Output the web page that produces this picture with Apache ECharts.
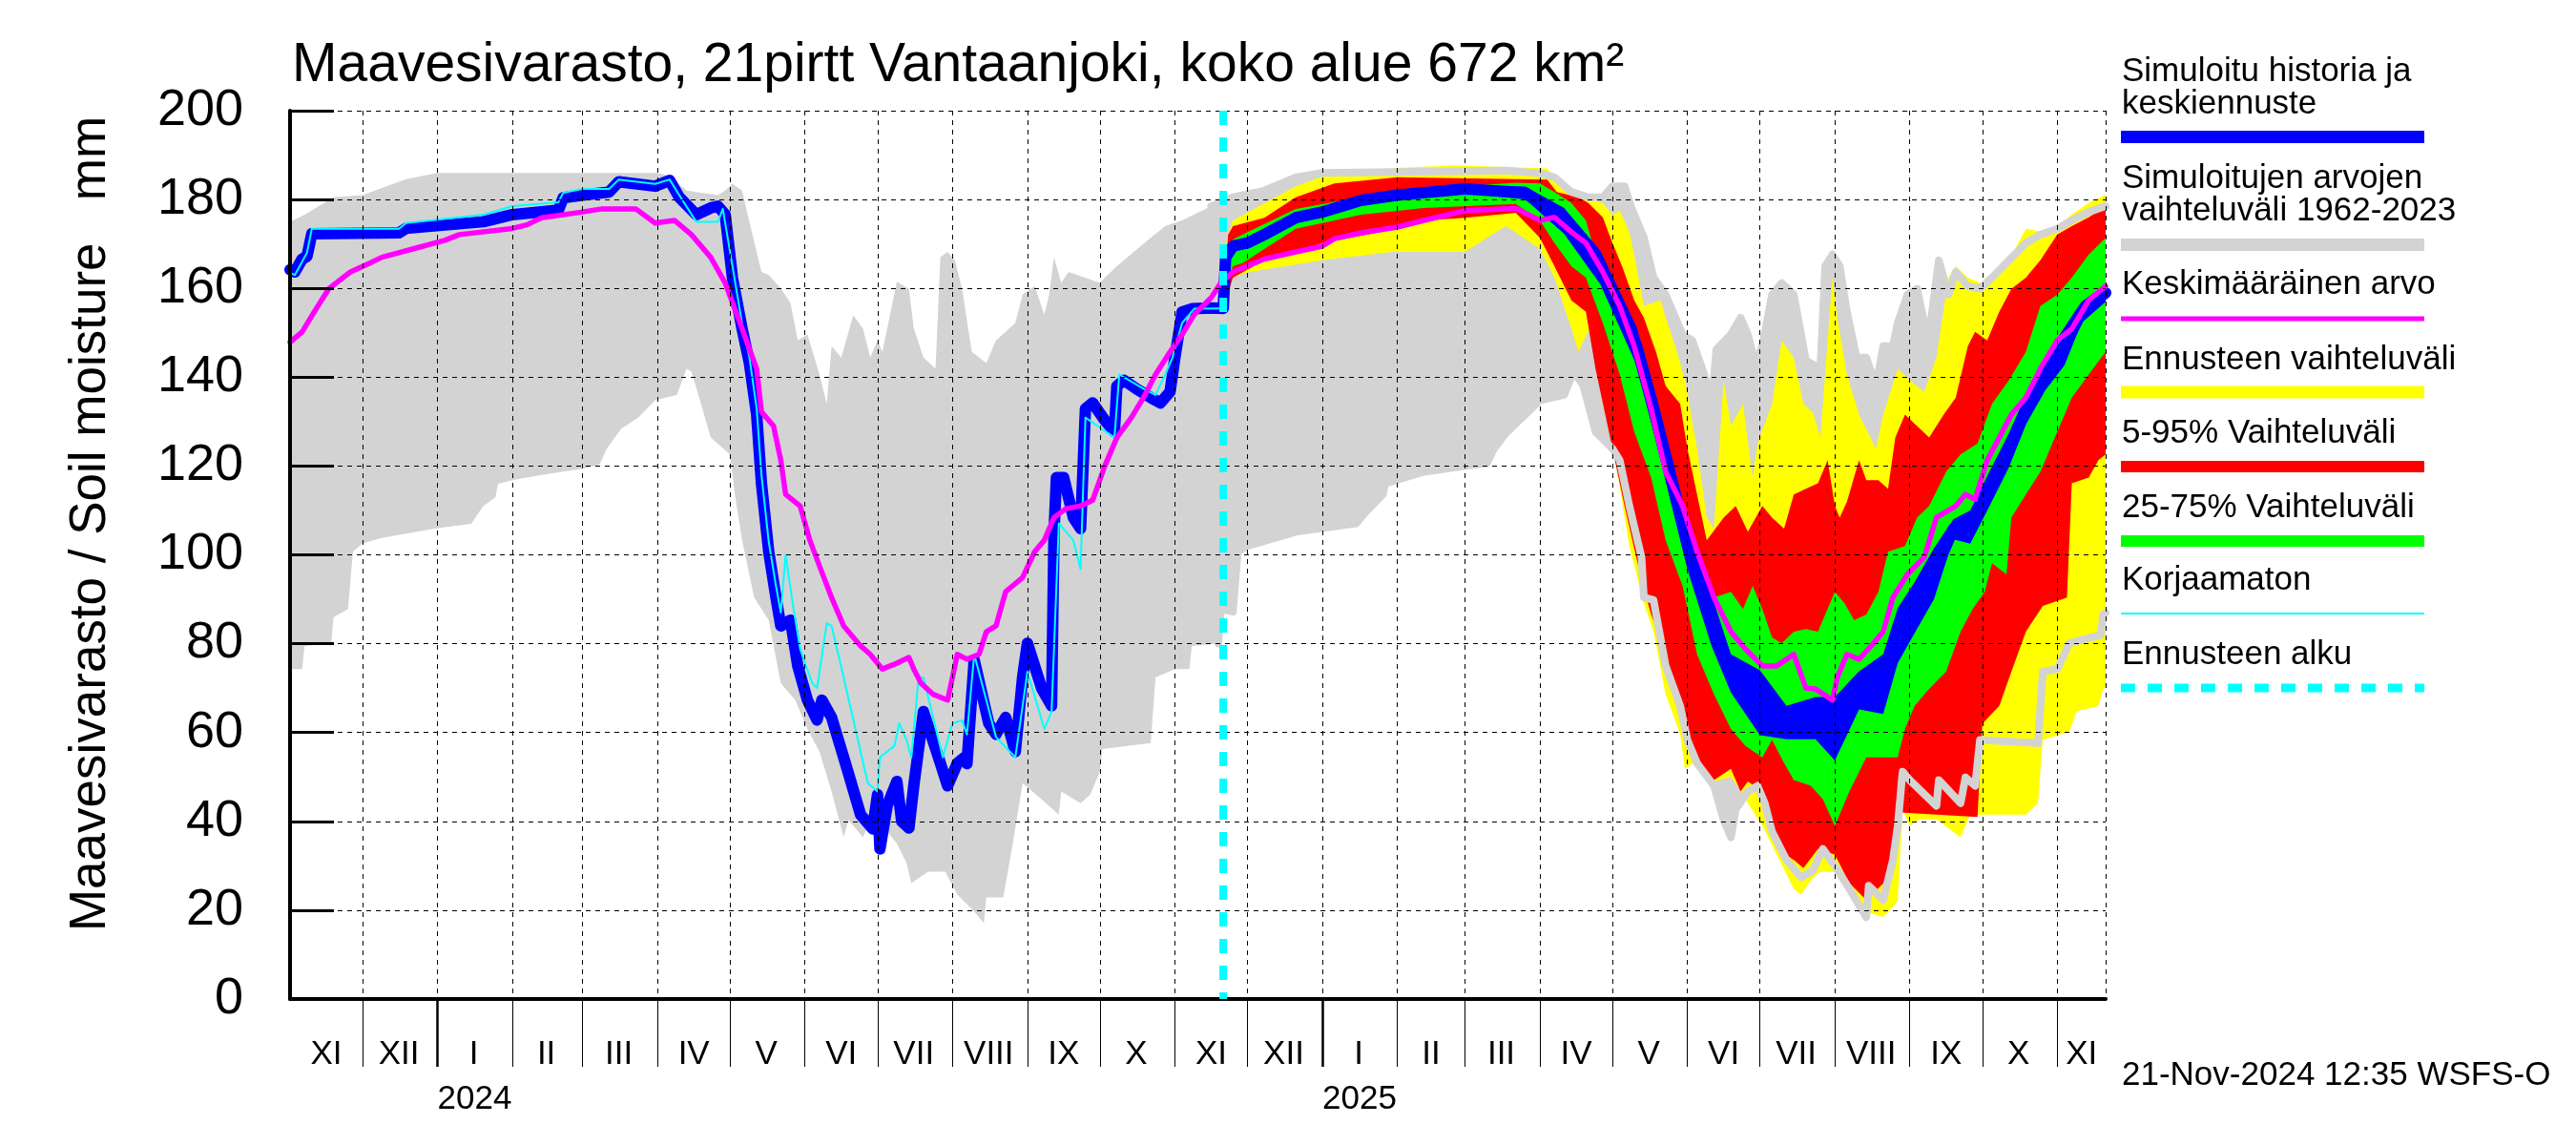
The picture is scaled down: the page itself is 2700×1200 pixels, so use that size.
<!DOCTYPE html>
<html>
<head>
<meta charset="utf-8">
<script src="https://cdn.jsdelivr.net/npm/echarts@6.0.0/dist/echarts.min.js"></script>
<style>html,body{margin:0;padding:0;background:#fff;}#c{width:2700px;height:1200px;}</style>
</head>
<body>
<div id="c"></div>
<script>
// ---------- DATA ----------
const axisStart = '2023-11-01';
const axisEnd = '2025-11-21';
const forecastStart = '2024-11-21';
const monthNames = ['I','II','III','IV','V','VI','VII','VIII','IX','X','XI','XII'];
const yTicks = [0, 200, 20];

const titleText = 'Maavesivarasto, 21pirtt Vantaanjoki, koko alue 672 km\u00b2';
const yName = 'Maavesivarasto / Soil moisture   mm';
const stampText = '21-Nov-2024 12:35 WSFS-O';
const legendItems = [
  ['Simuloitu historia ja', 'keskiennuste'],
  ['Simuloitujen arvojen', 'vaihteluv\u00e4li 1962-2023'],
  ['Keskim\u00e4\u00e4r\u00e4inen arvo'],
  ['Ennusteen vaihteluv\u00e4li'],
  ['5-95% Vaihteluv\u00e4li'],
  ['25-75% Vaihteluv\u00e4li'],
  ['Korjaamaton'],
  ['Ennusteen alku']
];

const greyHigh = [
['2023-11-01',175],['2023-11-07',176.6],['2023-11-19',180.5],['2023-12-01',181],['2023-12-19',184.6],['2024-01-01',186],['2024-04-01',186],['2024-04-06',185.3],['2024-04-13',182],['2024-04-26',181],['2024-04-29',182],['2024-05-02',183.5],['2024-05-06',182],['2024-05-09',175],['2024-05-14',163.7],['2024-05-17',163],['2024-05-22',160],['2024-05-26',156.7],['2024-05-29',148.3],['2024-06-02',149.6],['2024-06-07',140.6],['2024-06-10',134],['2024-06-12',147],['2024-06-16',144.4],['2024-06-21',154],['2024-06-25',150.9],['2024-06-28',144.4],['2024-07-01',148.3],['2024-07-03',145.7],['2024-07-09',161.5],['2024-07-14',159.9],['2024-07-16',151],['2024-07-20',144.4],['2024-07-25',141.9],['2024-07-27',167],['2024-07-30',168.2],['2024-08-02',166.3],['2024-08-05',159.9],['2024-08-09',145.7],['2024-08-15',143.2],['2024-08-19',148.3],['2024-08-23',150.2],['2024-08-27',152.2],['2024-08-30',158.6],['2024-09-04',160.5],['2024-09-08',154.1],['2024-09-10',158.6],['2024-09-12',167],['2024-09-15',161.2],['2024-09-18',163.7],['2024-09-25',162.4],['2024-10-01',161.2],['2024-10-03',162.4],['2024-10-08',165],['2024-10-15',168.2],['2024-10-22',171.4],['2024-10-28',174],['2024-11-04',175.3],['2024-11-11',177.2],['2024-11-16',178.5],['2024-11-25',180.5],['2024-12-08',182],['2024-12-21',185],['2025-01-01',186],['2025-03-18',186.5],['2025-04-01',185.9],['2025-04-07',185],['2025-04-14',181.7],['2025-04-21',180.5],['2025-04-27',180.5],['2025-05-01',183],['2025-05-06',183],['2025-05-09',177.9],['2025-05-14',171.4],['2025-05-18',162.4],['2025-05-23',158.6],['2025-05-30',149.6],['2025-06-03',148.3],['2025-06-08',140.6],['2025-06-11',134],['2025-06-13',146.3],['2025-06-19',149.6],['2025-06-23',153.4],['2025-06-26',149.6],['2025-06-29',143.2],['2025-07-02',147],['2025-07-06',158.6],['2025-07-10',161.2],['2025-07-15',158.6],['2025-07-20',143.8],['2025-07-26',141.9],['2025-07-28',165],['2025-07-31',167.6],['2025-08-03',165],['2025-08-06',154.7],['2025-08-10',144.4],['2025-08-14',144.4],['2025-08-18',138],['2025-08-21',147],['2025-08-25',147],['2025-08-27',152.2],['2025-08-31',158.6],['2025-09-04',159.9],['2025-09-07',152.2],['2025-09-09',149.6],['2025-09-13',166.3],['2025-09-17',158.6],['2025-09-20',163.7],['2025-09-25',160.5],['2025-09-30',159.9],['2025-10-05',162.4],['2025-10-12',166.3],['2025-10-19',170.2],['2025-10-25',172.1],['2025-11-01',173.4],['2025-11-07',175.3],['2025-11-14',177.2],['2025-11-21',178.5]
];
const greyLow = [
['2023-11-01',74.3],['2023-11-06',74.3],['2023-11-07',79.5],['2023-11-18',80],['2023-11-19',86],['2023-11-25',87.8],['2023-11-27',100.7],['2023-12-01',102.6],['2023-12-09',103.8],['2024-01-01',106],['2024-01-15',107],['2024-01-17',108.7],['2024-01-20',111],['2024-01-25',113],['2024-01-26',116],['2024-02-01',116.8],['2024-02-13',118],['2024-03-01',119.4],['2024-03-08',120.3],['2024-03-11',123.9],['2024-03-17',128.4],['2024-03-24',130.9],['2024-03-31',134.8],['2024-04-09',136],['2024-04-13',141.9],['2024-04-15',141.3],['2024-04-19',134],['2024-04-23',126.4],['2024-05-01',122.6],['2024-05-03',113.6],['2024-05-06',103.3],['2024-05-11',90.4],['2024-05-17',85.3],['2024-05-22',71.1],['2024-05-28',67.3],['2024-06-02',60.8],['2024-06-07',55.7],['2024-06-12',46.7],['2024-06-17',36.4],['2024-06-19',40.3],['2024-06-25',36.4],['2024-07-01',44.1],['2024-07-05',37.7],['2024-07-09',35],['2024-07-13',30.6],['2024-07-15',26.1],['2024-07-22',28.7],['2024-07-29',28.7],['2024-08-03',23.5],['2024-08-10',19.7],['2024-08-14',17.1],['2024-08-15',22.9],['2024-08-22',22.9],['2024-08-26',35.1],['2024-08-30',48.6],['2024-09-06',45.4],['2024-09-14',41.5],['2024-09-15',46.7],['2024-09-23',44.1],['2024-09-27',46],['2024-10-01',51.2],['2024-10-02',56.3],['2024-10-22',57.6],['2024-10-24',72.4],['2024-11-01',74.3],['2024-11-07',74.3],['2024-11-08',79.5],['2024-11-19',80],['2024-11-20',87.8],['2024-11-25',87.2],['2024-11-27',100.7],['2024-12-01',102],['2024-12-21',105.2],['2025-01-15',107.1],['2025-01-19',109.7],['2025-01-26',113.6],['2025-01-27',116.1],['2025-02-12',118.7],['2025-03-01',120],['2025-03-10',120.6],['2025-03-13',123.9],['2025-03-18',127.5],['2025-03-26',131.6],['2025-04-01',134.8],['2025-04-11',136],['2025-04-15',141.3],['2025-04-19',138],['2025-04-24',127.7],['2025-05-01',123.9],['2025-05-04',121.3],['2025-05-08',111],['2025-05-13',99.5],['2025-05-14',90.4],['2025-05-18',89.8],['2025-05-23',75],['2025-05-29',66],['2025-06-01',58.3],['2025-06-05',53.1],['2025-06-12',48],['2025-06-16',40.3],['2025-06-19',36.4],['2025-06-21',42.7],['2025-06-26',46.7],['2025-06-30',48],['2025-07-03',44.1],['2025-07-06',37.7],['2025-07-12',31.3],['2025-07-18',27.4],['2025-07-23',29],['2025-07-27',33.8],['2025-08-01',30],['2025-08-07',24.8],['2025-08-14',18.4],['2025-08-15',25.5],['2025-08-21',22.3],['2025-08-25',31.3],['2025-08-27',39],['2025-08-29',51.2],['2025-09-01',49.3],['2025-09-12',43.5],['2025-09-13',49.3],['2025-09-22',44.1],['2025-09-24',49.9],['2025-09-28',48],['2025-09-30',58.3],['2025-10-24',57.6],['2025-10-26',73.7],['2025-11-01',74.3],['2025-11-06',80.1],['2025-11-19',82],['2025-11-20',86.6],['2025-11-21',87]
];
const blueHistory = [
['2023-11-01',164.2],['2023-11-03',163.7],['2023-11-06',166.6],['2023-11-08',167.2],['2023-11-10',172.3],['2023-12-16',172.5],['2023-12-19',173.5],['2024-01-20',175],['2024-02-01',176.6],['2024-02-20',177.6],['2024-02-22',180.4],['2024-03-01',181],['2024-03-12',181.7],['2024-03-16',184],['2024-03-31',183],['2024-04-06',184.3],['2024-04-10',180.5],['2024-04-17',176.6],['2024-04-23',178.1],['2024-04-26',178.5],['2024-04-29',176.6],['2024-05-02',162.4],['2024-05-06',150.9],['2024-05-09',143.2],['2024-05-12',131.6],['2024-05-14',116.1],['2024-05-17',100.7],['2024-05-20',90.4],['2024-05-22',84],['2024-05-26',85.3],['2024-05-29',75],['2024-06-02',67.3],['2024-06-06',62.8],['2024-06-08',67.3],['2024-06-12',63.4],['2024-06-17',54.4],['2024-06-24',41.5],['2024-06-29',38.3],['2024-07-01',46],['2024-07-02',33.8],['2024-07-05',43.5],['2024-07-09',49],['2024-07-11',40],['2024-07-14',38.5],['2024-07-16',48],['2024-07-20',64.7],['2024-07-27',53.1],['2024-07-30',48],['2024-08-03',53.1],['2024-08-06',54.4],['2024-08-07',53],['2024-08-10',76.3],['2024-08-16',62.1],['2024-08-19',59.6],['2024-08-23',63.4],['2024-08-27',55.7],['2024-08-30',72.4],['2024-09-01',80.1],['2024-09-07',69.8],['2024-09-11',66],['2024-09-12',105],['2024-09-13',117.4],['2024-09-16',117.4],['2024-09-20',108.4],['2024-09-23',105.9],['2024-09-25',132.9],['2024-09-28',134.2],['2024-10-03',130.3],['2024-10-07',127.7],['2024-10-08',138],['2024-10-11',139.3],['2024-10-16',137.4],['2024-10-22',135.4],['2024-10-26',134.2],['2024-10-30',136.7],['2024-11-01',144.4],['2024-11-04',154.7],['2024-11-08',155.4],['2024-11-16',155.6],['2024-11-21',155.5]
];
// forecast median (centre line) and its spread
const blueForecast = [
['2024-11-21',155.5],['2024-11-22',167],['2024-11-25',169.5],['2024-12-01',170.2],['2024-12-08',172.1],['2024-12-21',175.9],['2025-01-01',177.2],['2025-01-17',179.8],['2025-02-01',181],['2025-03-01',182.4],['2025-03-26',181.5],['2025-04-11',175.2],['2025-04-26',164.7],['2025-05-11',147],['2025-05-19',130.8],['2025-06-01',102.5],['2025-06-11',85.3],['2025-06-19',73.3],['2025-07-01',66.7],['2025-07-12',62.3],['2025-07-24',63.3],['2025-08-01',60.9],['2025-08-11',69.5],['2025-08-21',70.9],['2025-08-27',81.8],['2025-09-03',88.2],['2025-09-11',95.8],['2025-09-19',105.8],['2025-09-26',106.3],['2025-10-04',114.9],['2025-10-12',123.6],['2025-10-19',132.7],['2025-10-27',140.8],['2025-11-04',147],['2025-11-11',154.6],['2025-11-21',159]
];
const blueFcHigh = [
['2024-11-21',155.5],['2024-11-22',168],['2024-11-25',170.5],['2024-12-01',171.2],['2024-12-08',173.1],['2024-12-21',177],['2025-01-01',178.3],['2025-01-17',180.8],['2025-02-01',182],['2025-03-01',183.4],['2025-03-26',182.9],['2025-04-11',178.1],['2025-04-26',168.5],['2025-05-11',151.3],['2025-05-19',136],['2025-06-01',108.2],['2025-06-11',91],['2025-06-19',77.6],['2025-07-01',74],['2025-07-12',66],['2025-07-24',68],['2025-08-01',68],['2025-08-11',73.8],['2025-08-21',77.6],['2025-08-27',88],['2025-09-03',93.9],['2025-09-11',101.5],['2025-09-19',108],['2025-09-26',110],['2025-10-04',118.8],['2025-10-12',127.4],['2025-10-19',136],['2025-10-27',144.6],['2025-11-04',151.3],['2025-11-11',157],['2025-11-21',160.9]
];
const blueFcLow = [
['2024-11-21',155.5],['2024-11-22',166],['2024-11-25',168.5],['2024-12-01',169.2],['2024-12-08',171.1],['2024-12-21',174.8],['2025-01-01',176.1],['2025-01-17',178.8],['2025-02-01',180],['2025-03-01',181.4],['2025-03-26',180],['2025-04-11',172.3],['2025-04-26',160.9],['2025-05-11',142.7],['2025-05-19',125.5],['2025-06-01',96.7],['2025-06-11',79.5],['2025-06-19',69],['2025-07-01',59.4],['2025-07-12',58.5],['2025-07-24',58.5],['2025-08-01',53.7],['2025-08-11',65.2],['2025-08-21',64.2],['2025-08-27',75.6],['2025-09-03',82.4],['2025-09-11',90],['2025-09-19',103.5],['2025-09-26',102.5],['2025-10-04',111],['2025-10-12',119.7],['2025-10-19',129.3],['2025-10-27',137],['2025-11-04',142.7],['2025-11-11',152.2],['2025-11-21',157]
];
const uncorrected = [
['2023-11-01',163.5],['2023-11-03',163],['2023-11-06',166],['2023-11-08',168],['2023-11-10',173.4],['2023-12-16',173.4],['2023-12-19',174.7],['2024-01-20',176.6],['2024-02-01',178.5],['2024-02-20',179.4],['2024-02-22',181.5],['2024-03-01',182.4],['2024-03-12',182.4],['2024-03-16',184.5],['2024-03-31',183.5],['2024-04-06',184.5],['2024-04-10',181],['2024-04-17',175],['2024-04-26',175],['2024-04-28',177.9],['2024-05-02',165],['2024-05-06',152],['2024-05-09',144.5],['2024-05-12',133],['2024-05-14',118],['2024-05-17',103],['2024-05-20',93],['2024-05-22',87],['2024-05-24',100],['2024-05-27',88.8],['2024-05-30',78.8],['2024-06-04',71.1],['2024-06-06',70],['2024-06-10',84.6],['2024-06-12',84],['2024-06-17',72.4],['2024-06-24',55.7],['2024-06-27',48.6],['2024-07-01',46.7],['2024-07-02',54.4],['2024-07-05',55.7],['2024-07-08',57],['2024-07-10',62.1],['2024-07-13',58.3],['2024-07-15',54.4],['2024-07-18',72.4],['2024-07-20',72.4],['2024-07-28',54.4],['2024-08-01',62.1],['2024-08-05',62.7],['2024-08-07',59.6],['2024-08-10',77.6],['2024-08-19',59],['2024-08-27',54.4],['2024-09-01',73.7],['2024-09-08',60.8],['2024-09-11',64.7],['2024-09-14',107.1],['2024-09-20',103.3],['2024-09-23',96.8],['2024-09-25',130.9],['2024-10-07',126.4],['2024-10-09',140.6],['2024-10-19',137.4],['2024-10-24',136],['2024-10-28',140.6],['2024-10-31',144.4],['2024-11-04',152.2],['2024-11-09',155.4],['2024-11-21',155.5]
];
const meanValue = [
['2023-11-01',147.9],['2023-11-06',150.2],['2023-11-11',154.7],['2023-11-17',159.9],['2023-11-26',163.7],['2023-12-04',165.7],['2023-12-09',167],['2023-12-22',168.9],['2024-01-04',170.8],['2024-01-10',172.1],['2024-01-31',173.4],['2024-02-07',174.3],['2024-02-13',175.9],['2024-03-01',177.2],['2024-03-09',177.9],['2024-03-23',177.9],['2024-03-31',174.7],['2024-04-08',175.3],['2024-04-15',172.1],['2024-04-23',167],['2024-04-29',161.2],['2024-05-06',150.9],['2024-05-12',141.9],['2024-05-14',132.2],['2024-05-19',129],['2024-05-22',121.3],['2024-05-24',113.6],['2024-05-30',111],['2024-06-03',103.3],['2024-06-07',97.5],['2024-06-12',90.4],['2024-06-17',84],['2024-06-24',79.5],['2024-06-28',77.6],['2024-07-03',74.3],['2024-07-09',75.6],['2024-07-14',76.9],['2024-07-16',74.3],['2024-07-19',71.1],['2024-07-24',68.6],['2024-07-30',67.3],['2024-08-01',72.4],['2024-08-03',77.6],['2024-08-07',76.5],['2024-08-12',77.6],['2024-08-15',82.7],['2024-08-19',84],['2024-08-23',91.7],['2024-08-30',94.9],['2024-09-04',100.7],['2024-09-08',103.3],['2024-09-12',108.4],['2024-09-17',110.4],['2024-09-23',111],['2024-09-28',112.3],['2024-10-03',120],['2024-10-08',126.4],['2024-10-14',130.9],['2024-10-19',135.4],['2024-10-24',140.6],['2024-10-30',145.7],['2024-11-04',149.6],['2024-11-09',154.1],['2024-11-16',157.9],['2024-11-20',161.2],['2024-11-25',163.7],['2024-12-08',166.6],['2024-12-21',168.2],['2025-01-01',169.5],['2025-01-06',171.2],['2025-01-17',172.5],['2025-02-01',173.8],['2025-02-12',175.3],['2025-03-01',177.5],['2025-03-22',178],['2025-04-01',175.3],['2025-04-07',176],['2025-04-14',172.7],['2025-04-20',170.2],['2025-04-27',163.7],['2025-05-04',156],['2025-05-10',147],['2025-05-17',132.9],['2025-05-23',118.7],['2025-05-30',111],['2025-06-05',100.7],['2025-06-12',90.4],['2025-06-19',82.7],['2025-06-25',78.8],['2025-07-02',75],['2025-07-08',75],['2025-07-15',77.6],['2025-07-20',70],['2025-07-24',69.8],['2025-07-31',67.3],['2025-08-02',72.4],['2025-08-06',77.6],['2025-08-11',76.5],['2025-08-17',80.1],['2025-08-21',82.7],['2025-08-25',90.4],['2025-08-31',95.6],['2025-09-07',99.5],['2025-09-12',108.4],['2025-09-20',111],['2025-09-24',113.6],['2025-09-28',112.5],['2025-10-03',121.3],['2025-10-08',126.4],['2025-10-13',131.6],['2025-10-19',135.4],['2025-10-25',141.9],['2025-11-01',148.3],['2025-11-07',150.9],['2025-11-14',157.3],['2025-11-21',160.5]
];
const yellowHigh = [
['2024-11-21',155.5],['2024-11-22',170],['2024-11-25',175.3],['2024-12-21',183],['2025-01-03',185.6],['2025-02-01',187.1],['2025-02-25',187.7],['2025-04-04',187],['2025-04-07',185],['2025-04-14',182.4],['2025-04-20',180.5],['2025-04-27',179.2],['2025-05-01',176.6],['2025-05-04',177.5],['2025-05-08',172.7],['2025-05-10',167.6],['2025-05-14',156],['2025-05-17',156.6],['2025-05-21',157.3],['2025-05-23',153.4],['2025-05-27',147],['2025-05-31',139.3],['2025-06-05',123.9],['2025-06-09',108.4],['2025-06-12',105.9],['2025-06-16',139.3],['2025-06-19',129],['2025-06-24',134],['2025-06-28',117.4],['2025-06-30',125.1],['2025-07-06',134],['2025-07-10',148.3],['2025-07-15',144.4],['2025-07-19',134],['2025-07-23',132],['2025-07-26',126.4],['2025-07-31',162.4],['2025-08-02',153.4],['2025-08-06',140.6],['2025-08-11',131.6],['2025-08-18',123.9],['2025-08-21',131.6],['2025-08-27',141.9],['2025-09-01',139.3],['2025-09-07',136.7],['2025-09-12',144.4],['2025-09-17',162.4],['2025-09-20',165],['2025-09-25',162.4],['2025-09-30',161.2],['2025-10-05',161.2],['2025-10-12',166.3],['2025-10-19',173.4],['2025-10-26',172.7],['2025-11-01',174],['2025-11-07',176.6],['2025-11-14',179.2],['2025-11-21',181.1]
];
const yellowLow = [
['2024-11-21',155.5],['2024-11-25',162.5],['2024-12-02',163.7],['2025-01-01',166.3],['2025-01-30',168.2],['2025-03-01',168.2],['2025-03-10',171.4],['2025-03-18',174],['2025-04-01',168.9],['2025-04-07',162.4],['2025-04-14',150.9],['2025-04-17',145.7],['2025-04-21',150.5],['2025-04-24',145.7],['2025-04-27',134],['2025-05-01',125.1],['2025-05-08',102],['2025-05-14',89.1],['2025-05-18',82.7],['2025-05-23',68.6],['2025-05-29',59.6],['2025-05-31',51.8],['2025-06-03',53],['2025-06-12',49],['2025-06-19',50],['2025-06-23',47],['2025-06-26',44.1],['2025-07-02',39],['2025-07-08',32.5],['2025-07-15',24.8],['2025-07-18',23.5],['2025-07-23',27.4],['2025-07-26',28.6],['2025-08-01',28.6],['2025-08-07',23.5],['2025-08-14',19.7],['2025-08-21',18.4],['2025-08-27',22],['2025-08-29',42.8],['2025-09-01',39],['2025-09-05',40.5],['2025-09-12',40.5],['2025-09-22',36.4],['2025-09-26',41.5],['2025-10-19',41.5],['2025-10-24',44.1],['2025-10-26',58.3],['2025-11-06',60.2],['2025-11-09',64.7],['2025-11-18',66],['2025-11-20',69.8],['2025-11-21',70]
];
const redHigh = [
['2024-11-21',155.5],['2024-11-23',172],['2024-11-25',174],['2024-12-08',175.9],['2024-12-21',180.5],['2025-01-06',183.6],['2025-02-01',185],['2025-04-04',184.5],['2025-04-08',181.7],['2025-04-17',180.5],['2025-04-21',179.2],['2025-04-27',176],['2025-05-01',170.2],['2025-05-05',165],['2025-05-10',157.3],['2025-05-14',153.4],['2025-05-19',145.7],['2025-05-23',138],['2025-05-29',134],['2025-06-01',123.9],['2025-06-05',113.6],['2025-06-09',103.3],['2025-06-16',108.4],['2025-06-21',111],['2025-06-26',105.2],['2025-07-02',111],['2025-07-06',108.4],['2025-07-11',105.9],['2025-07-15',113.6],['2025-07-20',114.9],['2025-07-25',116.1],['2025-07-29',121.3],['2025-08-01',111],['2025-08-03',108.4],['2025-08-06',112],['2025-08-11',121.3],['2025-08-14',116.8],['2025-08-19',116.8],['2025-08-23',114.9],['2025-08-26',126.4],['2025-08-30',131.6],['2025-09-04',129],['2025-09-09',126.4],['2025-09-15',131.6],['2025-09-20',135.4],['2025-09-25',147],['2025-09-28',150.2],['2025-10-03',148.3],['2025-10-08',154.7],['2025-10-13',159.9],['2025-10-19',162.4],['2025-10-25',166.3],['2025-11-01',172.1],['2025-11-07',174],['2025-11-14',176],['2025-11-21',178.5]
];
const redLow = [
['2024-11-21',155.5],['2024-11-25',162.4],['2024-12-08',166.3],['2024-12-21',168.2],['2025-01-01',170.2],['2025-02-01',173.4],['2025-02-12',175.3],['2025-03-01',175.9],['2025-03-22',177],['2025-04-01',171.4],['2025-04-07',165],['2025-04-14',157.3],['2025-04-20',154.7],['2025-04-24',141.9],['2025-05-01',123.9],['2025-05-06',111],['2025-05-13',94.3],['2025-05-17',86.6],['2025-05-23',77.6],['2025-05-30',62.1],['2025-06-05',53.1],['2025-06-12',49.3],['2025-06-19',51.8],['2025-06-23',46.7],['2025-06-26',49],['2025-07-02',46.7],['2025-07-04',39],['2025-07-08',33.8],['2025-07-15',31.3],['2025-07-19',29.5],['2025-07-25',33.8],['2025-08-01',32.5],['2025-08-07',26.1],['2025-08-14',22.3],['2025-08-21',26],['2025-08-26',30],['2025-08-28',42],['2025-09-29',41],['2025-10-01',62],['2025-10-08',66],['2025-10-13',73.7],['2025-10-19',82.7],['2025-10-26',88.5],['2025-11-05',90.4],['2025-11-07',116.1],['2025-11-14',117.4],['2025-11-18',121.3],['2025-11-21',122.6]
];
const greenHigh = [
['2024-11-21',155.5],['2024-11-22',166],['2024-11-25',171],['2024-11-29',172.1],['2024-12-21',177.9],['2025-01-17',180.5],['2025-02-12',182.4],['2025-03-22',183.8],['2025-04-01',183.6],['2025-04-07',181.7],['2025-04-14',179.2],['2025-04-20',175.3],['2025-04-24',167.6],['2025-05-01',158.6],['2025-05-08',149.6],['2025-05-13',141.9],['2025-05-19',129],['2025-05-23',118.7],['2025-05-30',111],['2025-06-05',100.7],['2025-06-12',90.4],['2025-06-19',91.7],['2025-06-24',87.8],['2025-06-28',93],['2025-07-02',87.8],['2025-07-06',81.4],['2025-07-10',80.1],['2025-07-15',82.7],['2025-07-20',83.3],['2025-07-25',82.7],['2025-08-01',91.7],['2025-08-05',89.1],['2025-08-09',85.3],['2025-08-14',86.6],['2025-08-19',91.7],['2025-08-23',100.7],['2025-08-30',102],['2025-09-04',108.4],['2025-09-09',111],['2025-09-16',118.7],['2025-09-22',122.6],['2025-09-29',125.1],['2025-10-05',134],['2025-10-12',139.3],['2025-10-19',145.7],['2025-10-25',156],['2025-11-01',158.6],['2025-11-07',162.4],['2025-11-14',167.6],['2025-11-21',171.4]
];
const greenLow = [
['2024-11-21',155.5],['2024-11-22',160],['2024-11-25',165],['2024-11-29',165.7],['2024-12-21',173.4],['2025-01-17',176.6],['2025-02-12',178.1],['2025-03-22',179],['2025-04-01',175.3],['2025-04-07',170.2],['2025-04-14',165],['2025-04-20',162.4],['2025-04-27',152.2],['2025-05-04',140.6],['2025-05-10',127.7],['2025-05-17',117.4],['2025-05-23',103.3],['2025-05-30',93],['2025-06-05',77.6],['2025-06-12',68.6],['2025-06-19',60.8],['2025-06-25',57],['2025-07-02',54.4],['2025-07-06',58.3],['2025-07-11',53.1],['2025-07-15',49.3],['2025-07-22',48],['2025-07-27',45],['2025-08-01',39],['2025-08-07',46.7],['2025-08-14',54.4],['2025-08-27',54.4],['2025-08-30',60.8],['2025-09-03',66],['2025-09-09',69.8],['2025-09-16',73.7],['2025-09-22',82.7],['2025-09-27',87.8],['2025-10-02',91.7],['2025-10-05',98.1],['2025-10-11',95.6],['2025-10-13',108.4],['2025-10-19',113.6],['2025-10-25',118.7],['2025-11-01',127.7],['2025-11-07',135.4],['2025-11-14',140.6],['2025-11-21',145.7]
];

// ---------- HELPERS ----------
const FONT = '"Liberation Sans", Arial, Helvetica, sans-serif';
const DAY = 86400000;
function utc(s){ const p = s.split('-').map(Number); return Date.UTC(p[0], p[1]-1, p[2]); }
const T0 = utc(axisStart);
function idx(s){ return Math.round((utc(s) - T0) / DAY); }
const nDays = idx(axisEnd) + 1;
const days = [];
for (let i = 0; i < nDays; i++) days.push(new Date(T0 + i*DAY).toISOString().slice(0,10));

const monthStart = new Set(), yearStart = new Set(), monthLabel = new Set();
const groups = {};
days.forEach((d, i) => {
  const k = d.slice(0,7);
  (groups[k] = groups[k] || []).push(i);
  if (d.slice(8) === '01' && i > 0) { monthStart.add(i); if (d.slice(5,7) === '01') yearStart.add(i); }
});
Object.values(groups).forEach(a => monthLabel.add(Math.round((a[0] + a[a.length-1]) / 2)));

const toXY = arr => arr.map(p => [idx(p[0]), p[1]]);
const fsIdx = idx(forecastStart);

function band(name, upper, lower, color) {
  const up = toXY(upper), lo = toXY(lower);
  return {
    type: 'custom', name: name, z: 1, silent: true, clip: true,
    coordinateSystem: 'cartesian2d',
    data: [up[0]],
    encode: { x: 0, y: 1 },
    renderItem: function (params, api) {
      const pts = up.map(p => api.coord(p));
      for (let i = lo.length - 1; i >= 0; i--) pts.push(api.coord(lo[i]));
      return { type: 'polygon', shape: { points: pts }, style: { fill: color, stroke: null } };
    }
  };
}
function line(name, data, color, width, z, extra) {
  return Object.assign({
    type: 'line', name: name, data: data, z: z, symbol: 'none', showSymbol: false, silent: true,
    lineStyle: { color: color, width: width, cap: 'round', join: 'round' }
  }, extra || {});
}

const greyEdgeHigh = toXY(greyHigh).filter(p => p[0] >= fsIdx - 6);
const greyEdgeLow = toXY(greyLow).filter(p => p[0] >= fsIdx - 6);

// ---------- LEGEND / TEXT GRAPHICS ----------
const LX1 = 2223, LX2 = 2541, TX = 2224;
const g = [];
function txt(s, x, y, size, extra) {
  g.push(Object.assign({ type: 'text', x: x, y: y, z: 100, silent: true,
    style: { text: s, fontSize: size, fontFamily: FONT, fill: '#000', align: 'left', verticalAlign: 'middle' } }, extra || {}));
}
function lg(y, color, w, dash) {
  g.push({ type: 'line', z: 100, silent: true, shape: { x1: LX1, y1: y, x2: LX2, y2: y },
    style: { stroke: color, lineWidth: w, lineDash: dash || null, lineCap: 'butt' } });
}
txt(titleText, 306, 69, 57);
txt(yName, 95, 549, 53, { rotation: Math.PI / 2, style: { text: yName, fontSize: 53, fontFamily: FONT, fill: '#000', align: 'center', verticalAlign: 'middle' } });
txt(stampText, TX, 1127, 35);
txt(legendItems[0][0], TX, 75, 35); txt(legendItems[0][1], TX, 109, 35); lg(143.5, '#0000ff', 13);
txt(legendItems[1][0], TX, 187, 35); txt(legendItems[1][1], TX, 221, 35); lg(256.5, '#d3d3d3', 13);
txt(legendItems[2][0], TX, 298.5, 35); lg(334, '#ff00ff', 5);
txt(legendItems[3][0], TX, 377.5, 35); lg(411, '#ffff00', 13);
txt(legendItems[4][0], TX, 454, 35); lg(489, '#ff0000', 12);
txt(legendItems[5][0], TX, 532.5, 35); lg(567, '#00ff00', 12);
txt(legendItems[6][0], TX, 608.5, 35); lg(643, '#00ffff', 2);
txt(legendItems[7][0], TX, 686.5, 35); lg(721, '#00ffff', 9, [15, 13]);

// ---------- CHART ----------
const chart = echarts.init(document.getElementById('c'), null, { renderer: 'canvas' });
const AXZ = 8;
const option = {
  animation: false,
  backgroundColor: '#ffffff',
  grid: { left: 304, right: 493, top: 116, bottom: 153, containLabel: false },
  xAxis: [
    {
      type: 'category', data: days, boundaryGap: false, position: 'bottom', z: AXZ,
      axisLine: { show: true, onZero: false, lineStyle: { color: '#000', width: 4 } },
      axisTick: { show: true, interval: (i) => monthStart.has(i), length: 71, lineStyle: { color: '#000', width: 1 } },
      axisLabel: { show: true, interval: (i) => monthLabel.has(i), formatter: (v) => monthNames[+v.slice(5,7) - 1],
        fontSize: 35, fontFamily: FONT, color: '#000', margin: 41 },
      splitLine: { show: true, interval: (i) => monthStart.has(i) || i === nDays - 1,
        lineStyle: { color: '#000', width: 1, type: [5, 5] } }
    },
    {
      type: 'category', data: days, boundaryGap: false, position: 'bottom', z: AXZ,
      axisLine: { show: false },
      axisTick: { show: true, interval: (i) => yearStart.has(i), length: 71, lineStyle: { color: '#000', width: 2.5 } },
      axisLabel: { show: true, interval: (i) => yearStart.has(i), formatter: (v) => v.slice(0,4), align: 'left',
        fontSize: 35, fontFamily: FONT, color: '#000', margin: 88 },
      splitLine: { show: false }
    }
  ],
  yAxis: {
    type: 'value', min: yTicks[0], max: yTicks[1], interval: yTicks[2], z: AXZ,
    axisLine: { show: true, lineStyle: { color: '#000', width: 4 } },
    axisTick: { show: true, inside: true, length: 46, lineStyle: { color: '#000', width: 3 } },
    axisLabel: { fontSize: 54, fontFamily: FONT, color: '#000', margin: 49 },
    splitLine: { show: true, lineStyle: { color: '#000', width: 1, type: [5, 5] } }
  },
  series: [
    band('Simuloitujen arvojen vaihteluväli 1962-2023', greyHigh, greyLow, '#d3d3d3'),
    band('Ennusteen vaihteluväli', yellowHigh, yellowLow, '#ffff00'),
    band('5-95% Vaihteluväli', redHigh, redLow, '#ff0000'),
    band('25-75% Vaihteluväli', greenHigh, greenLow, '#00ff00'),
    line('grey max', greyEdgeHigh, '#d3d3d3', 8, 2),
    line('grey min', greyEdgeLow, '#d3d3d3', 8, 2),
    Object.assign(band('keskiennuste spread', blueFcHigh, blueFcLow, '#0000ff'), { z: 3 }),
    line('Simuloitu historia ja keskiennuste', toXY(blueHistory).concat(toXY(blueForecast).slice(1)), '#0000ff', 12, 4),
    line('Korjaamaton', toXY(uncorrected), '#00ffff', 2, 5),
    line('Keskimääräinen arvo', toXY(meanValue), '#ff00ff', 5.5, 6),
    line('Ennusteen alku', [[fsIdx, yTicks[1]], [fsIdx, yTicks[0]]], '#00ffff', 8, 9,
      { lineStyle: { color: '#00ffff', width: 8, type: [15, 13], cap: 'butt' } })
  ],
  graphic: g
};
chart.setOption(option);
</script>
</body>
</html>
